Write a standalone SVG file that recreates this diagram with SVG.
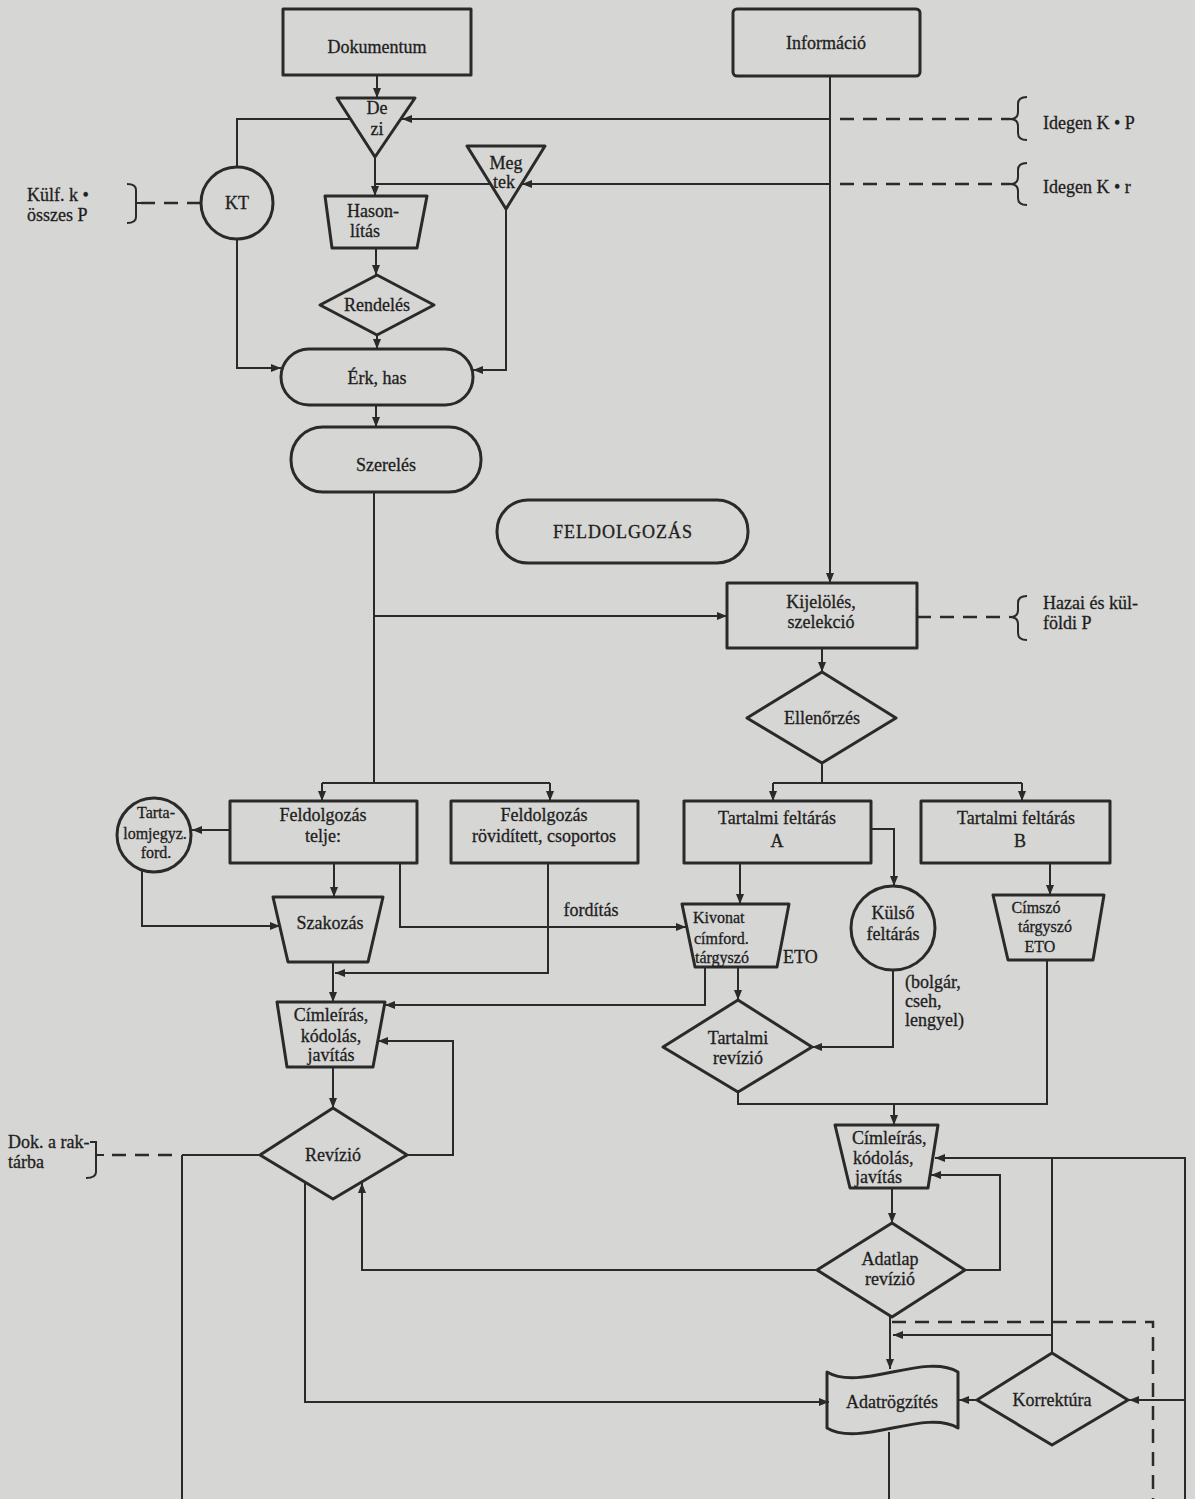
<svg xmlns="http://www.w3.org/2000/svg" width="1195" height="1499" viewBox="0 0 1195 1499">
<defs>
<marker id="arr" markerUnits="userSpaceOnUse" markerWidth="10" markerHeight="8" refX="10" refY="4" orient="auto">
<path d="M0,0 L10,4 L0,8 z" fill="#2a2a2a"/>
</marker>
<style>
.s{fill:none;stroke:#2a2a2a;stroke-width:3;stroke-linejoin:round}
.c{fill:none;stroke:#2a2a2a;stroke-width:2}
.a{marker-end:url(#arr)}
.d{fill:none;stroke:#2a2a2a;stroke-width:2.5;stroke-dasharray:14 9}
text{font-family:"Liberation Serif","DejaVu Serif",serif;font-size:18px;fill:#1e1e1e;stroke:#1e1e1e;stroke-width:0.3;text-anchor:middle}
.l{text-anchor:start}
.sm{font-size:16px}
</style>
</defs>
<rect width="1195" height="1499" fill="#d6d6d4"/>

<g id="connectors">
<path class="c a" d="M377,75 L377,98"/>
<path class="c a" d="M375,157 L375,196"/>
<path class="c" d="M237,167 L237,119 L351,119"/>
<path class="c a" d="M830,76 L830,583"/>
<path class="c a" d="M830,119 L402,119"/>
<path class="d" d="M840,119 L1010,119"/>
<path class="c a" d="M830,184 L522,184"/>
<path class="d" d="M840,184 L1010,184"/>
<path class="c" d="M490,184 L375,184"/>
<path class="c a" d="M376,248 L376,275"/>
<path class="c a" d="M377,335 L377,349"/>
<path class="c a" d="M237,239 L237,368 L281,368"/>
<path class="c a" d="M506,209 L506,370 L473,370"/>
<path class="d" d="M141,203 L201,203"/>
<path class="c a" d="M376,405 L376,427"/>
<path class="c" d="M374,492 L374,783"/>
<path class="c a" d="M374,616 L727,616"/>
<path class="c" d="M322,783 L550,783"/>
<path class="c a" d="M322,783 L322,801"/>
<path class="c a" d="M550,783 L550,801"/>
<path class="d" d="M917,617 L1010,617"/>
<path class="c a" d="M822,648 L822,672"/>
<path class="c" d="M822,763 L822,783"/>
<path class="c" d="M773,783 L1022,783"/>
<path class="c a" d="M773,783 L773,801"/>
<path class="c a" d="M1022,783 L1022,801"/>
<path class="c a" d="M230,830 L192,830"/>
<path class="c a" d="M142,871 L142,926 L280,926"/>
<path class="c a" d="M334,863 L334,897"/>
<path class="c a" d="M400,863 L400,927 L686,927"/>
<path class="c a" d="M548,863 L548,973 L335,973"/>
<path class="c a" d="M333,962 L333,1002"/>
<path class="c a" d="M705,967 L705,1005 L385,1005"/>
<path class="c a" d="M407,1155 L453,1155 L453,1041 L378,1041"/>
<path class="c a" d="M333,1067 L333,1108"/>
<path class="c" d="M260,1155 L182,1155"/>
<path class="d" d="M172,1155 L104,1155"/>
<path class="c" d="M182,1155 L182,1499"/>
<path class="c a" d="M305,1182 L305,1402 L829,1402"/>
<path class="c a" d="M817,1270 L362,1270 L362,1183"/>
<path class="c a" d="M740,863 L740,904"/>
<path class="c a" d="M871,829 L894,829 L894,886"/>
<path class="c a" d="M1050,863 L1050,895"/>
<path class="c a" d="M738,967 L738,1000"/>
<path class="c a" d="M893,970 L893,1047 L812,1047"/>
<path class="c" d="M738,1092 L738,1104 L1047,1104 L1047,960"/>
<path class="c a" d="M894,1104 L894,1125"/>
<path class="c a" d="M1185,1499 L1185,1158 L935,1158"/>
<path class="c" d="M1052,1353 L1052,1158"/>
<path class="c a" d="M1052,1335 L893,1335"/>
<path class="c a" d="M892,1188 L892,1223"/>
<path class="c a" d="M965,1270 L1000,1270 L1000,1175 L931,1175"/>
<path class="c a" d="M890,1317 L890,1369"/>
<path class="d" d="M892,1322 L1153,1322 L1153,1499"/>
<path class="c a" d="M977,1400 L959,1400"/>
<path class="c a" d="M1185,1400 L1129,1400"/>
<path class="c" d="M889,1432 L889,1499"/>
</g>

<g id="n-dokumentum"><rect class="s" x="283" y="9" width="188" height="66"/><text x="377" y="53">Dokumentum</text></g>
<g id="n-informacio"><rect class="s" x="733" y="9" width="187" height="67" rx="4"/><text x="826" y="49">Információ</text></g>
<g id="n-dezi"><polygon class="s" points="337,98 415,98 375,157"/><text x="377" y="114">De</text><text x="377" y="135">zi</text></g>
<g id="n-kt"><circle class="s" cx="237" cy="203" r="36"/><text x="237" y="209">KT</text></g>
<g id="n-kulf"><text class="l" x="27" y="201">Külf. k •</text><text class="l" x="27" y="221">összes P</text><path class="c" d="M127,184 Q136,184 136,190 L136,217 Q136,223 127,223 M136,203 L141,203"/></g>
<g id="n-megtek"><polygon class="s" points="467,146 545,146 506,209"/><text x="506" y="169">Meg</text><text x="504" y="188">tek</text></g>
<g id="n-idegen1"><path class="c" d="M1027,97 Q1018,97 1018,104 L1018,112 Q1018,119 1010,119 Q1018,119 1018,126 L1018,133 Q1018,140 1027,140"/><text class="l" x="1043" y="129">Idegen K • P</text></g>
<g id="n-idegen2"><path class="c" d="M1027,163 Q1018,163 1018,170 L1018,177 Q1018,184 1010,184 Q1018,184 1018,191 L1018,198 Q1018,205 1027,205"/><text class="l" x="1043" y="193">Idegen K • r</text></g>
<g id="n-hasonlitas"><polygon class="s" points="325,196 427,196 417,248 332,248"/><text class="l" x="347" y="217">Hason-</text><text class="l" x="350" y="237">lítás</text></g>
<g id="n-rendeles"><polygon class="s" points="377,275 434,305 377,335 320,305"/><text x="377" y="311">Rendelés</text></g>
<g id="n-erk"><rect class="s" x="281" y="349" width="192" height="56" rx="28"/><text x="377" y="384">Érk, has</text></g>
<g id="n-szereles"><rect class="s" x="291" y="427" width="190" height="65" rx="32"/><text x="386" y="471">Szerelés</text></g>
<g id="n-feldolgozas"><rect class="s" x="497" y="500" width="251" height="63" rx="31"/><text x="623" y="538" letter-spacing="1">FELDOLGOZÁS</text></g>
<g id="n-kijeloles"><rect class="s" x="727" y="583" width="190" height="65"/><text x="821" y="608">Kijelölés,</text><text x="821" y="628">szelekció</text></g>
<g id="n-hazai"><path class="c" d="M1027,596 Q1018,596 1018,603 L1018,610 Q1018,617 1010,617 Q1018,617 1018,624 L1018,633 Q1018,640 1027,640"/><text class="l" x="1043" y="609">Hazai és kül-</text><text class="l" x="1043" y="629">földi P</text></g>
<g id="n-ellenorzes"><polygon class="s" points="822,672 896,718 822,763 747,718"/><text x="822" y="724">Ellenőrzés</text></g>
<g id="n-feld-teljes"><rect class="s" x="230" y="801" width="187" height="62"/><text x="323" y="821">Feldolgozás</text><text x="323" y="842">telje:</text></g>
<g id="n-feld-rov"><rect class="s" x="451" y="801" width="187" height="62"/><text x="544" y="821">Feldolgozás</text><text x="544" y="842">rövidített, csoportos</text></g>
<g id="n-tart-a"><rect class="s" x="684" y="801" width="187" height="62"/><text x="777" y="824">Tartalmi feltárás</text><text x="777" y="847">A</text></g>
<g id="n-tart-b"><rect class="s" x="921" y="801" width="189" height="62"/><text x="1016" y="824">Tartalmi feltárás</text><text x="1020" y="847">B</text></g>
<g id="n-tartalomjegyz"><circle class="s" cx="154" cy="835" r="37"/><text class="sm" x="156" y="818">Tarta-</text><text class="sm" x="155" y="839">lomjegyz.</text><text class="sm" x="156" y="858">ford.</text></g>
<g id="n-szakozas"><polygon class="s" points="273,897 383,897 368,962 288,962"/><text x="330" y="929">Szakozás</text></g>
<g id="n-fordit"><text x="591" y="916">fordítás</text></g>
<g id="n-cimleiras1"><polygon class="s" points="277,1002 385,1002 373,1067 287,1067"/><text x="331" y="1021">Címleírás,</text><text x="331" y="1042">kódolás,</text><text x="331" y="1061">javítás</text></g>
<g id="n-revizio"><polygon class="s" points="333,1108 407,1155 333,1199 260,1155"/><text x="333" y="1161">Revízió</text></g>
<g id="n-dok"><text class="l" x="8" y="1148">Dok. a rak-</text><text class="l" x="8" y="1168">tárba</text><path class="c" d="M90,1142 L96,1142 L96,1172 Q96,1178 86,1178 M96,1155 L104,1155"/></g>
<g id="n-kivonat"><polygon class="s" points="682,904 789,904 777,967 695,967"/><text class="l sm" x="693" y="923">Kivonat</text><text class="l sm" x="694" y="944">címford.</text><text class="l sm" x="695" y="963">tárgyszó</text><text class="l" x="783" y="963">ETO</text></g>
<g id="n-kulso"><circle class="s" cx="893" cy="928" r="42"/><text x="893" y="919">Külső</text><text x="893" y="940">feltárás</text><text class="l" x="905" y="988">(bolgár,</text><text class="l" x="905" y="1007">cseh,</text><text class="l" x="905" y="1026">lengyel)</text></g>
<g id="n-cimszo"><polygon class="s" points="993,895 1104,895 1093,960 1008,960"/><text class="sm" x="1036" y="913">Címszó</text><text class="sm" x="1045" y="932">tárgyszó</text><text class="sm" x="1040" y="952">ETO</text></g>
<g id="n-tart-rev"><polygon class="s" points="738,1000 812,1047 738,1092 663,1047"/><text x="738" y="1044">Tartalmi</text><text x="738" y="1064">revízió</text></g>
<g id="n-cimleiras2"><polygon class="s" points="835,1125 938,1125 928,1188 850,1188"/><text class="l" x="852" y="1144">Címleírás,</text><text class="l" x="853" y="1164">kódolás,</text><text class="l" x="855" y="1183">javítás</text></g>
<g id="n-adatlap"><polygon class="s" points="892,1223 965,1270 892,1317 817,1270"/><text x="890" y="1265">Adatlap</text><text x="890" y="1285">revízió</text></g>
<g id="n-adatrogzites"><path class="s" d="M827,1372 C860,1392 925,1352 958,1372 L958,1428 C925,1408 860,1448 827,1428 Z"/><text x="892" y="1408">Adatrögzítés</text></g>
<g id="n-korrektura"><polygon class="s" points="1052,1353 1128,1400 1052,1445 977,1400"/><text x="1052" y="1406">Korrektúra</text></g>
</svg>
